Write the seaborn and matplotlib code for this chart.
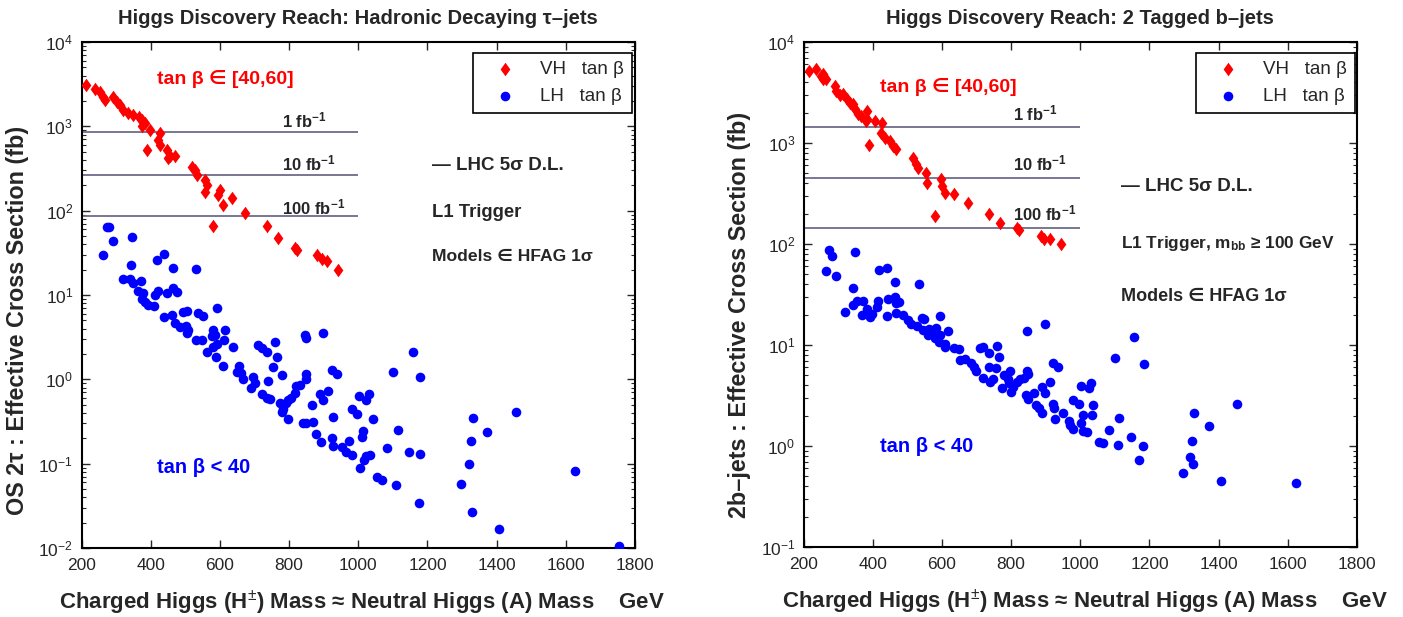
import matplotlib
matplotlib.use('Agg')
import matplotlib.pyplot as plt
import seaborn as sns
import numpy as np

# ---------------- data ----------------
# Left panel: OS 2 tau-jets
vh_tau_mass = [213, 239, 253, 263, 268, 292, 302, 311, 321, 335,
               350, 365, 374, 383, 374, 398, 427, 422, 427, 388,
               446, 456, 470, 451, 518, 528, 533, 557, 562, 557,
               600, 595, 634, 608, 673, 579, 737, 769, 817, 822,
               882, 894, 910, 942]
vh_tau_xs = [3100, 2800, 2580, 2240, 2050, 2240, 1970, 1790, 1560, 1440,
             1370, 1300, 1200, 1100, 1000, 910, 830, 690, 600, 525,
             525, 440, 440, 420, 332, 305, 265, 230, 202, 168,
             176, 154, 140, 117, 93, 66, 66, 47, 36, 34,
             30, 26.5, 25, 20]

lh_tau_mass = [263, 273, 280, 292, 345, 342, 319, 340, 350, 371,
               364, 377, 374, 384, 393, 410, 412, 422, 419, 439,
               465, 446, 465, 477, 531, 439, 461, 470, 485, 494,
               504, 502, 509, 506, 538, 550, 531, 547, 562, 581,
               586, 576, 593, 581, 591, 589, 612, 615, 608, 637,
               656, 649, 660, 668, 695, 701, 689, 711, 721, 735,
               759, 764, 754, 779, 740, 721, 737, 745, 774, 783,
               779, 791, 798, 798, 807, 817, 820, 832, 846, 849,
               849, 849, 841, 849, 868, 865, 878, 891, 889, 899,
               913, 899, 923, 938, 926, 923, 928, 952, 966, 981,
               974, 981, 995, 1003, 1022, 1032, 1042, 1013, 1010, 1022,
               1034, 1017, 1005, 1053, 1068, 1084, 1109, 1116, 1101, 1148,
               1157, 1178, 1176, 1178,
               1332, 1325, 1373, 1455, 1319, 1298, 1328, 1408, 1626, 1754]
lh_tau_xs = [29.8, 63.5, 64.7, 44, 49, 22.7, 15.3, 15.3, 13.8, 14.8,
             11.3, 10.5, 8.9, 8.3, 7.6, 7.4, 10, 11.3, 26, 30.7,
             20.7, 10.5, 12, 11, 20.2, 5.5, 5.8, 4.6, 4.2, 6.3,
             6.5, 4.3, 3.85, 3.5, 6.2, 5.6, 2.9, 2.9, 2.13, 3.85,
             3.36, 3.27, 7.0, 2.44, 2.62, 1.86, 2.93, 3.85, 1.44, 2.40,
             1.44, 1.23, 1.18, 1.0, 1.08, 0.90, 0.80, 2.55, 2.33, 2.13,
             2.80, 1.86, 1.39, 1.12, 0.96, 0.67, 0.60, 0.58, 0.52, 0.45,
             0.41, 0.53, 0.335, 0.57, 0.60, 0.68, 0.83, 0.86, 3.36, 3.06,
             1.16, 1.0, 0.30, 0.30, 0.31, 0.50, 0.225, 0.18, 0.67, 0.57,
             0.73, 3.57, 1.29, 1.16, 0.36, 0.20, 0.16, 0.156, 0.139, 0.126,
             0.187, 0.44, 0.39, 0.63, 0.57, 0.67, 0.34, 0.246, 0.21, 0.125,
             0.126, 0.112, 0.088, 0.070, 0.064, 0.152, 0.056, 0.25, 1.23, 0.139,
             2.13, 0.132, 0.034, 1.08,
             0.344, 0.185, 0.235, 0.41, 0.10, 0.058, 0.027, 0.017, 0.083, 0.0106]

tau_lumi_xs = [870, 266, 86]          # 1, 10, 100 fb^-1 discovery limits
tau_lumi_labels = ['1 fb$^{\\mathbf{-1}}$', '10 fb$^{\\mathbf{-1}}$', '100 fb$^{\\mathbf{-1}}$']

# Right panel: 2 tagged b-jets
vh_bb_mass = [216, 236, 249, 257, 266, 255, 290, 295, 305, 315,
              324, 334, 343, 348, 358, 367, 384, 384, 380, 406,
              428, 425, 435, 390, 449, 459, 468, 516, 526, 531,
              555, 557, 598, 601, 608, 634, 675, 579, 736, 768,
              816, 822, 887, 896, 911, 944]
vh_bb_xs = [5170, 5370, 4610, 4800, 4340, 4280, 3670, 3270, 2970, 3040,
            2750, 2510, 2420, 2160, 1920, 1850, 2070, 1710, 1650, 1650,
            1590, 1260, 1130, 946, 1045, 933, 865, 715, 614, 569,
            507, 404, 436, 374, 316, 309, 252, 188, 196, 160,
            145, 139, 119, 111, 112, 101]

lh_bb_mass = [274, 281, 264, 293, 348, 319, 342, 342, 353, 368,
              372, 382, 393, 399, 411, 416, 418, 440, 442, 444,
              464, 467, 464, 476, 468, 488, 502, 509, 528, 534,
              541, 547, 545, 560, 563, 582, 584, 593, 579, 592,
              595, 608, 610, 618, 634, 649, 653, 668, 685, 692,
              699, 711, 720, 736, 720, 736, 740, 747, 755, 759,
              765, 774, 778, 791, 793, 800, 797, 805, 817, 826,
              836, 845, 848, 845, 842, 848, 865, 872, 880, 890,
              890, 899, 899, 913, 922, 935, 922, 925, 928, 951,
              967, 970, 980, 980, 995, 1002, 1009, 1002, 1009, 1018,
              1024, 1031, 1036, 1034, 1053, 1067, 1084, 1108, 1113, 1101,
              1146, 1156, 1170,
              1185, 1182, 1329, 1372, 1454, 1322, 1316, 1326, 1297, 1406, 1624]
lh_bb_xs = [88, 76.7, 53.6, 48.5, 82.8, 21, 25, 36.6, 27, 19.9,
            27, 22.7, 18.9, 20.4, 23.8, 27, 54.8, 57.8, 19.2, 28.5,
            29.9, 26, 41.7, 26.4, 20.7, 19.9, 17.5, 16.2, 15.5, 40.4,
            18.5, 18, 14.2, 12.6, 14.4, 14.7, 12.6, 19.5, 11.7, 10.6,
            12.6, 10.3, 9.5, 13.6, 9.3, 9.1, 7.1, 7.2, 6.7, 6.0,
            5.5, 9.3, 9.5, 8.3, 4.7, 6.1, 4.3, 4.6, 5.9, 9.7,
            7.6, 3.73, 5.06, 4.6, 4.2, 3.46, 5.5, 3.87, 4.25, 4.6,
            4.7, 5.5, 5.2, 13.9, 3.2, 2.9, 3.38, 2.55, 2.37, 2.14,
            3.82, 3.33, 16.2, 4.25, 6.7, 6.1, 2.61, 2.37, 1.84, 2.11,
            1.78, 1.61, 1.46, 2.86, 2.61, 3.94, 2.03, 1.68, 1.42, 1.36,
            3.73, 4.2, 2.55, 2.03, 1.10, 1.08, 1.44, 1.02, 1.88, 7.4,
            1.22, 12, 0.73,
            6.5, 1.0, 2.11, 1.56, 2.61, 1.13, 0.77, 0.67, 0.54, 0.45, 0.43]

bb_lumi_xs = [1430, 455, 145]
bb_lumi_labels = tau_lumi_labels

x_ticks = [200, 400, 600, 800, 1000, 1200, 1400, 1600, 1800]
lumi_line_end = 1000

# ---------------- style ----------------
sns.set_style('ticks')
plt.rcParams['font.family'] = ['Liberation Sans', 'DejaVu Sans']
plt.rcParams['mathtext.fontset'] = 'custom'
plt.rcParams['mathtext.rm'] = 'Liberation Sans'
plt.rcParams['mathtext.bf'] = 'Liberation Sans:bold'
plt.rcParams['mathtext.it'] = 'Liberation Sans:italic'
plt.rcParams['mathtext.sf'] = 'Liberation Sans'

fig = plt.figure(figsize=(14.03, 6.17), dpi=100)
ax1 = fig.add_axes([0.0581, 0.1118, 0.3945, 0.8200])
ax2 = fig.add_axes([0.5728, 0.1135, 0.3944, 0.8185])

diamond = [(0, 1), (0.72, 0), (0, -1), (-0.72, 0), (0, 1)]
RED = '#ff0000'
BLUE = '#0000ff'
LINE = '#6c6c8c'


def panel(ax, vh_m, vh_y, lh_m, lh_y, lumi, lumi_lab, ylim, title, ylabel,
          txt_pos, ylab_y, leg_anchor, trig_text, xlab_x, trig_fs, mod_fs):
    sns.scatterplot(x=vh_m, y=vh_y, ax=ax, marker=diamond, color=RED, s=95,
                    linewidth=0, label='VH   tan \u03b2', zorder=3)
    sns.scatterplot(x=lh_m, y=lh_y, ax=ax, marker='o', color=BLUE, s=48,
                    linewidth=0, label='LH   tan \u03b2', zorder=3)
    ax.hlines(lumi, x_ticks[0], lumi_line_end, colors=LINE, linewidth=1.3, zorder=2)
    ax.set_yscale('log')
    ax.set_xlim(x_ticks[0], x_ticks[-1])
    ax.set_ylim(*ylim)
    ax.set_xticks(x_ticks)
    ax.tick_params(which='both', direction='in', top=True, right=True)
    ax.tick_params(which='major', length=6, width=1, labelsize=12.5)
    ax.tick_params(which='minor', length=3, width=0.8)
    ax.tick_params(axis='x', pad=7)
    ax.tick_params(axis='y', pad=6)
    for sp in ax.spines.values():
        sp.set_linewidth(1.5)
        sp.set_color('black')
    ax.set_title(title, fontsize=14.5, fontweight='bold', pad=13)
    ax.set_ylabel(ylabel, fontsize=16.8, fontweight='bold')
    ax.yaxis.set_label_coords(-0.095, ylab_y)
    ax.set_xlabel('Charged Higgs (H$^{\\pm}$) Mass \u2248 Neutral Higgs (A) Mass    GeV',
                  fontsize=16, fontweight='bold')
    ax.xaxis.set_label_coords(xlab_x, -0.080)

    tp = txt_pos
    ax.text(*tp['hi'], 'tan \u03b2 \u2208 [40,60]', color=RED, fontsize=14,
            fontweight='bold', transform=ax.transAxes, va='center', ha='left')
    ax.text(*tp['lo'], 'tan \u03b2 < 40', color=BLUE, fontsize=14.5,
            fontweight='bold', transform=ax.transAxes, va='center', ha='left')
    for (fx, fy), lab in zip(tp['lumi'], lumi_lab):
        ax.text(fx, fy, lab, fontsize=12, fontweight='bold',
                transform=ax.transAxes, va='center', ha='left')
    ax.text(*tp['lhc'], '\u2014 LHC 5\u03c3 D.L.', fontsize=13.5, fontweight='bold',
            transform=ax.transAxes, va='center', ha='left')
    ax.text(*tp['trig'], trig_text, fontsize=trig_fs, fontweight='bold',
            transform=ax.transAxes, va='center', ha='left')
    ax.text(*tp['mod'], 'Models \u2208 HFAG 1\u03c3', fontsize=mod_fs, fontweight='bold',
            transform=ax.transAxes, va='center', ha='left')

    leg = ax.legend(loc='upper right', bbox_to_anchor=leg_anchor, borderaxespad=0,
                    fontsize=13.5, frameon=True, fancybox=False, framealpha=1,
                    edgecolor='black', handletextpad=0.6, borderpad=0.45,
                    labelspacing=0.5, handlelength=2.5)
    leg.get_frame().set_linewidth(1.2)


panel(ax1, vh_tau_mass, vh_tau_xs, lh_tau_mass, lh_tau_xs, tau_lumi_xs, tau_lumi_labels,
      (1e-2, 1e4), 'Higgs Discovery Reach: Hadronic Decaying \u03c4\u2013jets',
      'OS 2\u03c4 : Effective Cross Section (fb)',
      {'hi': (0.136, 0.927), 'lo': (0.136, 0.160),
       'lumi': [(0.362, 0.846), (0.362, 0.761), (0.362, 0.674)],
       'lhc': (0.633, 0.757), 'trig': (0.633, 0.663), 'mod': (0.633, 0.576)},
      0.45, (0.995, 0.979), 'L1 Trigger', 0.507, 13.3, 12.6)

panel(ax2, vh_bb_mass, vh_bb_xs, lh_bb_mass, lh_bb_xs, bb_lumi_xs, bb_lumi_labels,
      (1e-1, 1e4), 'Higgs Discovery Reach: 2 Tagged b\u2013jets',
      '2b\u2013jets : Effective Cross Section (fb)',
      {'hi': (0.138, 0.911), 'lo': (0.138, 0.198),
       'lumi': [(0.378, 0.859), (0.378, 0.760), (0.378, 0.661)],
       'lhc': (0.573, 0.713), 'trig': (0.573, 0.601), 'mod': (0.573, 0.496)},
      0.46, (0.997, 0.979), 'L1 Trigger, m$_{\\mathbf{bb}}$ \u2265 100 GeV', 0.508,
      12.4, 13.0)

fig.savefig('out.png', dpi=100)
